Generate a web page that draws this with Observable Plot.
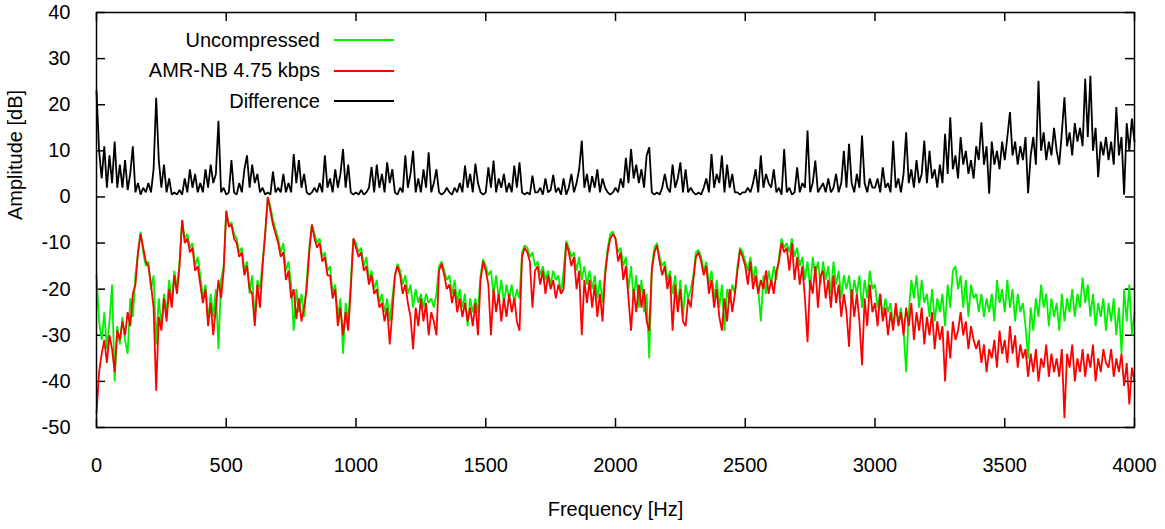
<!DOCTYPE html>
<html>
<head>
<meta charset="utf-8">
<script src="https://cdn.jsdelivr.net/npm/d3@7"></script>
<script src="https://cdn.jsdelivr.net/npm/@observablehq/plot@0.6"></script>
<style>
  html, body { margin: 0; padding: 0; background: #fff; }
  #wrap { position: relative; width: 1165px; height: 529px; font-family: "Liberation Sans", Arial, Helvetica, sans-serif; }
  #legend { position: absolute; left: 98px; top: 24.75px; width: 296px; }
  .row { height: 30.5px; display: flex; justify-content: flex-end; align-items: center; font-size: 20px; color: #000; }
  .sw { display: inline-block; width: 60px; height: 0; border-top: 2px solid; margin-left: 14px; }
</style>
</head>
<body>
<div id="wrap"><div id="legend"></div></div>
<script>
// Sample spacing of the spectra (Hz)
const step = 10;

// Uncompressed spectrum (dB), one value every 10 Hz from 0 to 4000 Hz
const uncompressed = [
  -17,-27,-31,-25,-33,-27,-19,-40,-28,-32,
  -26,-31,-34,-22,-26,-17,-12,-7.5,-12,-15,
  -14,-20,-17,-32,-22,-28,-21,-25,-18,-23,
  -16,-20,-14,-5,-9,-8,-11,-10,-15,-13,
  -17,-22,-19,-27,-21,-26,-20,-33,-18,-15,
  -3,-6,-5.5,-8,-9,-12,-11,-16,-14,-21,
  -17,-27,-18,-20,-14,-8,0,-2,-5,-7,
  -9,-12,-10,-16,-14,-19,-29,-20,-25,-21,
  -26,-18,-11,-6,-8,-10,-9,-13,-12,-16,
  -15,-21,-19,-26,-22,-34,-23,-27,-18,-9,
  -10,-12,-11,-15,-13,-18,-16,-20,-18,-23,
  -21,-25,-22,-27,-22,-17,-14.5,-16,-19,-17,
  -21,-19,-24,-20,-23,-21,-24,-21,-23,-22,
  -24,-21,-15,-14,-16,-18,-17,-21,-18,-23,
  -20,-24,-21,-28,-22,-25,-22,-25,-17,-13.5,
  -15,-17,-16,-21,-17,-22,-18,-23,-19,-22,
  -19,-23,-20,-22,-12,-10.5,-11,-13,-12,-15,
  -14,-17,-15,-18,-16,-19,-16,-18,-17,-21,
  -16,-9.5,-11,-13,-12,-16,-13,-18,-15,-19,
  -16,-20,-17,-22,-18,-23,-16,-11,-8,-7.5,
  -9,-12,-11,-15,-13,-20,-15,-22,-17,-24,
  -18,-25,-21,-35,-15,-11,-10,-13,-15,-14,
  -18,-16,-21,-17,-24,-18,-26,-19,-22,-20,
  -17,-12,-11.5,-13,-16,-14,-19,-16,-22,-18,
  -24,-19,-29,-20,-23,-19,-21,-15,-11,-12,
  -14,-16,-13,-18,-15,-20,-27,-17,-21,-16,
  -19,-15,-18,-13,-9,-11,-10,-12,-9,-13,
  -11,-15,-13,-18,-14,-20,-13,-17,-14,-19,
  -14,-18,-15,-21,-14,-19,-16,-22,-17,-20,
  -17,-23,-18,-21,-17,-24,-18,-22,-16,-20,
  -19,-24,-21,-26,-22,-25,-23,-28,-24,-27,
  -24,-29,-38,-25,-18,-22,-17,-24,-18,-23,
  -21,-26,-20,-27,-22,-25,-21,-28,-19,-24,
  -16,-15,-20,-17,-24,-18,-26,-19,-22,-21,
  -25,-21,-26,-22,-25,-21,-27,-18,-23,-20,
  -25,-18,-24,-20,-27,-21,-25,-23,-28,-35,
  -24,-29,-22,-26,-19,-24,-21,-28,-22,-26,
  -23,-29,-21,-27,-22,-25,-20,-26,-21,-24,
  -17.5,-23,-19,-26,-21,-28,-23,-26,-22,-29,
  -23,-27,-22,-30,-24,-34,-20,-27,-19,-30,
  -25
];

// AMR-NB 4.75 kbps spectrum (dB)
const amrnb = [
  -47,-38,-34,-31,-36,-30,-33,-38,-29,-31,
  -27,-30,-25,-28,-21,-19,-12,-8,-11,-14,
  -15,-19,-24,-42,-26,-29,-22,-27,-20,-24,
  -17,-21,-15,-5,-10,-9,-12,-11,-16,-15,
  -19,-23,-20,-28,-23,-30,-24,-18,-22,-16,
  -3,-6.5,-6,-9,-10,-13,-12,-17,-15,-20,
  -21,-28,-19,-24,-15,-8,0,-3,-6,-8,
  -10,-13,-12,-18,-16,-22,-20,-26.5,-22,-27,
  -24,-20,-12,-6,-9,-11,-10,-14,-13,-17,
  -17,-22,-20,-28,-24,-30,-25,-29,-20,-9,
  -11,-13,-12,-16,-15,-19,-17,-21,-20,-24,
  -23,-27,-24,-32,-25,-17,-15,-17,-21,-19,
  -23,-26,-33,-24,-28,-22,-27,-23,-30,-25,
  -27,-30,-16,-14.5,-17,-20,-19,-23,-20,-25,
  -22,-26,-23,-27,-24,-28,-23,-30,-18,-14,
  -16,-19,-30,-20,-25,-21,-27,-22,-26,-21,
  -25,-22,-27,-29,-13,-11,-12,-14,-24,-16,
  -15,-19,-16,-21,-17,-20,-18,-22,-19,-21,
  -20,-10,-12,-15,-13,-20,-16,-30,-18,-23,
  -18,-24,-19,-26,-21,-27,-17,-12,-9,-8,
  -9,-14,-12,-18,-15,-22,-29,-20,-25,-19,
  -24,-20,-27,-29,-16,-12,-10.5,-14,-17,-15,
  -20,-17,-29,-19,-25,-20,-27,-28,-22,-24,
  -18,-13,-12,-14,-17,-15,-21,-18,-24,-20,
  -26,-29,-22,-27,-20,-25,-21,-16,-11.5,-13,
  -15,-19,-14,-20,-17,-21,-18,-20,-16,-21,
  -18,-21,-16,-14,-10,-12,-11,-16,-10,-18,
  -13,-19,-15,-22,-31.5,-18,-21,-15,-24,-17,
  -16,-22,-18,-24,-17,-23,-19,-26,-21,-25,
  -32.5,-20,-26,-21,-27,-36.5,-22,-28,-19,-25,
  -23,-28,-21,-27,-24,-30,-25,-29,-23,-28,
  -25,-30,-24,-28,-23,-31,-25,-29,-24,-32,
  -26,-30,-25,-33,-27,-31,-28,-40,-29,-35,
  -27,-31,-29,-25,-30,-27,-33,-28,-31,-33,
  -31,-36,-32,-38,-33,-35,-31,-37,-29,-34,
  -31,-36,-28,-34,-30,-37,-32,-35,-33,-39,
  -34,-38,-33,-40,-35,-37,-32,-39,-34,-38,
  -35,-39,-33,-48,-34,-37,-32,-40,-35,-38,
  -33,-39,-34,-37,-32,-40,-35,-38,-33,-36,
  -37,-33,-39,-35,-38,-34,-41,-36,-45,-37,
  -40
];

// Difference spectrum (dB)
const difference = [
  23,10,4,11,2,9,3,12,2,7,
  2,8,1.5,5,11,1,3,0.5,2,1,
  3,1,6,21.5,8,2,7,1,4,0.5,
  1,0.5,1.5,0.5,4,1,6,2,5,1,
  3,1,6,2,7,3,5,16.5,1,2,
  0.5,1,8,1,0.5,3,1,6,9,2,
  7,3,5,1,2,0.5,1,0.5,5.5,1,
  2,1,5,1,3,1,9.3,3,8,2,
  5,1,0.5,1,2,1,3,1,9,2,
  4,1,6,2,5,10.4,2,7,1,0.5,
  1,0.5,1.5,0.5,1,2,6.5,1,7,2,
  5,1,7.5,3,6,1,0.5,2,1,9,
  2,5,10,1,4,1,6,2,9.7,1,
  3,6,1,0.5,1,2,1,0.5,2,1,
  3,1,6.8,2,5,1,7.2,3,1,0.5,
  1,6.4,2,7.9,1,4,2,5,1,3,
  1,6.8,2,7.5,1,0.5,1,0.5,4.6,1,
  1,2,0.5,4,1,1.5,4.8,1,2,0.5,
  4,0.5,2,5,1,3,6,12.2,2,5,
  1,4.5,2,6,1,4,2,1,0.5,1,
  2,1,4,2,8.5,3,10.4,4,7,3,
  6,2,9,10.8,1,0.5,1,0.5,2,5,
  2,1,7,2,4,7.5,1,6,1,2,
  1,0.5,1,0.5,2,4,1,9.3,2,5,
  3,9,1,7,2,5,1,1,0.5,1,
  1,2,1,3,6,1,9,2,5,3,
  2,6,1,2,0.5,10.4,1,2,0.5,1,
  6.4,1,3,2,14.4,1,3,7.9,1,2,
  3,1,4,1,2,5,1,3,10,2,
  11.5,3,1,5,2,13.3,3,1,4,2,
  2,4,1,6.4,2,3,1,12.2,2,4,
  1,5,14,3,6,2,8,3,5,12.2,
  3,10,4,6,2,7,3,13.7,5,17.3,
  6,9,4,13,7,10,5,8,4,11,
  8,16.2,7,11,0.7,12,7,10,6,12,
  8,13,18.4,9,12,7,11,8,13,0.8,
  9,13,7,25.2,10,14,8,12,9,15,
  10,7,14,21.6,11,14,9,16,12,15,
  11,25.6,13,26.3,10,15,4.3,12,9,13,
  8,12,7,19.5,9,13,0.5,16,10,17,
  12
];

const xTicks = [0, 500, 1000, 1500, 2000, 2500, 3000, 3500, 4000];
const yTicks = [-50, -40, -30, -20, -10, 0, 10, 20, 30, 40];

const seriesNames = ["Uncompressed", "AMR-NB 4.75 kbps", "Difference"];
const seriesColors = ["#00f000", "#ff0000", "#000000"];

const toRows = arr => arr.map((v, i) => ({f: i * step, v}));
const series = [uncompressed, amrnb, difference].map(toRows);

const W = 1165, H = 529;
const mL = 96, mR = 31, mT = 12, mB = 102;
const innerW = W - mL - mR, innerH = H - mT - mB;
const tickLen = 9;
const fmt = d => `${d}`;

const chart = Plot.plot({
  width: W,
  height: H,
  marginLeft: mL,
  marginRight: mR,
  marginTop: mT,
  marginBottom: mB,
  style: {fontFamily: '"Liberation Sans", Arial, Helvetica, sans-serif', fontSize: "20px", background: "white", color: "black"},
  x: {domain: [0, 4000]},
  y: {domain: [-50, 40]},
  marks: [
    Plot.axisX({ticks: xTicks, tickSize: 0, tickPadding: 30, tickFormat: fmt, fontSize: 20, label: null}),
    Plot.axisY({ticks: yTicks, tickSize: 0, tickPadding: 26, tickFormat: fmt, fontSize: 20, label: null}),
    Plot.tickX(xTicks, {x: d => d, insetTop: innerH - tickLen, stroke: "black", strokeWidth: 1.5}),
    Plot.tickX(xTicks, {x: d => d, insetBottom: innerH - tickLen, stroke: "black", strokeWidth: 1.5}),
    Plot.tickY(yTicks, {y: d => d, insetRight: innerW - tickLen, stroke: "black", strokeWidth: 1.5}),
    Plot.tickY(yTicks, {y: d => d, insetLeft: innerW - tickLen, stroke: "black", strokeWidth: 1.5}),
    ...series.map((rows, k) => Plot.line(rows, {x: "f", y: "v", stroke: seriesColors[k], strokeWidth: 1.8, strokeLinejoin: "miter"})),
    Plot.text(["Frequency [Hz]"], {frameAnchor: "bottom", dy: 88, fontSize: 20, fill: "black"}),
    Plot.text(["Amplitude [dB]"], {frameAnchor: "left", dx: -81, rotate: -90, fontSize: 20, fill: "black"}),
    Plot.frame({stroke: "black", strokeWidth: 1.5})
  ]
});

const wrap = document.getElementById("wrap");
wrap.insertBefore(chart, wrap.firstChild);

const legend = document.getElementById("legend");
seriesNames.forEach((name, k) => {
  const row = document.createElement("div");
  row.className = "row";
  const t = document.createElement("span");
  t.textContent = name;
  const s = document.createElement("span");
  s.className = "sw";
  s.style.borderTopColor = seriesColors[k];
  row.appendChild(t);
  row.appendChild(s);
  legend.appendChild(row);
});
</script>
</body>
</html>
